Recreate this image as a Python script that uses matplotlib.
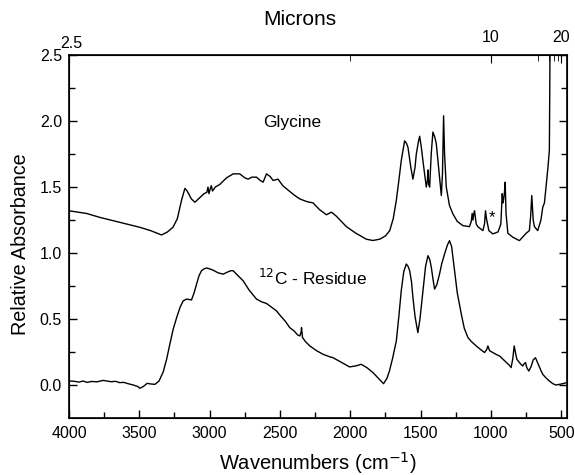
import matplotlib.pyplot as plt
import numpy as np

plt.rcParams['font.family'] = ['Liberation Sans', 'DejaVu Sans']

# Glycine spectrum (wavenumber cm-1, relative absorbance)
gly_wn = [4000, 3875, 3780, 3685, 3590, 3496, 3420, 3342, 3300, 3261, 3230, 3200,
          3176, 3160, 3130, 3105, 3070, 3040, 3020, 3012, 3005, 2995, 2988, 2980,
          2960, 2928, 2880, 2833, 2786, 2750, 2727, 2700, 2667, 2640, 2620, 2596,
          2570, 2549, 2514, 2480, 2431, 2400, 2359, 2310, 2265, 2220, 2170, 2134,
          2100, 2028, 1960, 1886, 1840, 1791, 1750, 1720, 1695, 1673, 1655, 1638,
          1614, 1600, 1590, 1570, 1555, 1540, 1531, 1515, 1507, 1495, 1484, 1470,
          1460, 1452, 1448, 1443, 1436, 1425, 1413, 1400, 1389, 1370, 1353, 1345,
          1337, 1330, 1318, 1295, 1271, 1240, 1200, 1153, 1140, 1134, 1128, 1122,
          1117, 1105, 1094, 1058, 1046, 1039, 1032, 1015, 987, 950, 930, 920,
          915, 911, 905, 899, 893, 880, 845, 798, 750, 727, 718, 710,
          700, 691, 668, 645, 632, 620, 609, 595, 585, 580, 575]
gly_abs = [1.32, 1.30, 1.27, 1.245, 1.22, 1.195, 1.17, 1.137, 1.16, 1.195, 1.26, 1.40,
           1.49, 1.47, 1.41, 1.385, 1.42, 1.45, 1.46, 1.50, 1.45, 1.49, 1.51, 1.47,
           1.50, 1.52, 1.57, 1.60, 1.60, 1.57, 1.56, 1.575, 1.575, 1.55, 1.537, 1.60,
           1.58, 1.55, 1.56, 1.51, 1.467, 1.44, 1.41, 1.39, 1.38, 1.33, 1.29, 1.31,
           1.28, 1.20, 1.15, 1.105, 1.095, 1.105, 1.13, 1.17, 1.26, 1.40, 1.55, 1.70,
           1.85, 1.83, 1.80, 1.65, 1.56, 1.65, 1.75, 1.85, 1.885, 1.80, 1.70, 1.58,
           1.50, 1.55, 1.63, 1.52, 1.50, 1.75, 1.917, 1.88, 1.83, 1.62, 1.436, 1.60,
           2.04, 1.75, 1.50, 1.36, 1.297, 1.24, 1.208, 1.20, 1.24, 1.30, 1.25, 1.30,
           1.32, 1.22, 1.20, 1.17, 1.22, 1.32, 1.26, 1.17, 1.145, 1.16, 1.22, 1.45,
           1.38, 1.40, 1.45, 1.537, 1.30, 1.15, 1.12, 1.094, 1.15, 1.17, 1.28, 1.436,
           1.25, 1.20, 1.17, 1.25, 1.347, 1.38, 1.50, 1.65, 1.78, 2.6, 3.0]

# 12C residue spectrum
res_wn = [4000, 3960, 3930, 3900, 3870, 3840, 3800, 3758, 3730, 3700, 3670, 3640,
          3610, 3580, 3543, 3510, 3496, 3470, 3444, 3420, 3389, 3360, 3330, 3305,
          3283, 3260, 3235, 3210, 3188, 3164, 3129, 3110, 3093, 3075, 3058, 3040,
          3022, 3000, 2975, 2940, 2904, 2875, 2850, 2833, 2800, 2762, 2720, 2667,
          2630, 2596, 2560, 2525, 2501, 2460, 2431, 2400, 2375, 2359, 2350, 2347,
          2343, 2340, 2320, 2288, 2240, 2194, 2150, 2123, 2060, 2005, 1960, 1922,
          1880, 1839, 1800, 1764, 1740, 1722, 1700, 1673, 1655, 1638, 1620, 1602,
          1590, 1578, 1565, 1555, 1540, 1520, 1505, 1484, 1465, 1448, 1435, 1424,
          1412, 1401, 1385, 1366, 1350, 1330, 1310, 1295, 1280, 1259, 1240, 1211,
          1190, 1164, 1140, 1105, 1075, 1046, 1030, 1022, 1010, 987, 960, 939,
          900, 870, 857, 845, 835, 825, 816, 790, 774, 765, 755, 745,
          731, 715, 700, 684, 665, 645, 632, 610, 585, 560, 538, 515, 490, 467]
res_abs = [0.03, 0.028, 0.022, 0.03, 0.02, 0.027, 0.024, 0.035, 0.03, 0.025, 0.028, 0.018,
           0.02, 0.01, 0.0, -0.012, -0.025, -0.01, 0.013, 0.008, 0.005, 0.03, 0.10, 0.20,
           0.31, 0.42, 0.51, 0.59, 0.638, 0.651, 0.645, 0.70, 0.765, 0.83, 0.866, 0.88,
           0.887, 0.88, 0.87, 0.85, 0.84, 0.855, 0.866, 0.866, 0.83, 0.79, 0.72, 0.651,
           0.63, 0.618, 0.59, 0.562, 0.53, 0.48, 0.435, 0.41, 0.38, 0.372, 0.40, 0.435,
           0.39, 0.36, 0.33, 0.296, 0.26, 0.233, 0.215, 0.207, 0.17, 0.137, 0.145, 0.157,
           0.13, 0.094, 0.05, 0.01, 0.05, 0.106, 0.20, 0.334, 0.52, 0.714, 0.86, 0.917,
           0.90, 0.866, 0.78, 0.663, 0.52, 0.397, 0.50, 0.714, 0.90, 0.98, 0.95, 0.89,
           0.80, 0.727, 0.76, 0.84, 0.92, 0.993, 1.06, 1.094, 1.05, 0.866, 0.70, 0.537,
           0.43, 0.36, 0.33, 0.296, 0.27, 0.246, 0.27, 0.296, 0.26, 0.246, 0.23, 0.22,
           0.18, 0.15, 0.132, 0.20, 0.296, 0.24, 0.195, 0.16, 0.144, 0.16, 0.17, 0.13,
           0.106, 0.14, 0.19, 0.207, 0.16, 0.11, 0.081, 0.055, 0.03, 0.01, 0.0, 0.005, 0.01, 0.017]

micron_major = [2.5, 10, 20]
micron_labels = ['', '10', '20']
micron_minor = [5, 15, 17, 18, 19]

fig = plt.figure(figsize=(5.75, 4.75), dpi=100)
ax = fig.add_axes([0.12, 0.12, 0.866, 0.764])

ax.plot(gly_wn, gly_abs, color='black', lw=1.0)
ax.plot(res_wn, res_abs, color='black', lw=1.0)

ax.set_xlim(4000, 460)
ax.set_ylim(-0.25, 2.5)
ax.set_xticks([4000, 3500, 3000, 2500, 2000, 1500, 1000, 500])
ax.set_xticks(np.arange(3750, 460, -500), minor=True)
ax.set_yticks([0.0, 0.5, 1.0, 1.5, 2.0, 2.5])
ax.set_yticks([0.25, 0.75, 1.25, 1.75, 2.25], minor=True)
ax.tick_params(axis='both', which='both', direction='in', labelsize=11.5, width=1.0)
ax.tick_params(axis='x', which='major', length=6, pad=6)
ax.tick_params(axis='x', which='minor', length=4)
ax.tick_params(axis='y', which='major', length=6, pad=5, right=True)
ax.tick_params(axis='y', which='minor', length=4, right=True)
for s in ax.spines.values():
    s.set_linewidth(1.2)

# top axis in microns
top = ax.twiny()
top.set_xlim(ax.get_xlim())
top.set_xticks([1e4 / m for m in micron_major])
top.set_xticklabels(micron_labels)
top.set_xticks([1e4 / m for m in micron_minor], minor=True)
top.tick_params(axis='x', which='both', direction='in', labelsize=11.5, pad=7)
top.tick_params(axis='x', which='major', length=6)
top.tick_params(axis='x', which='minor', length=4)
ax.annotate('2.5', xy=(0, 1), xycoords='axes fraction', xytext=(2, 3),
            textcoords='offset points', ha='center', va='bottom', fontsize=11.5)

ax.text(2416, 1.99, 'Glycine', ha='center', va='center', fontsize=12.5)
ax.text(2267, 0.815, '$^{12}$C - Residue', ha='center', va='center', fontsize=12.5)
ax.text(994, 1.265, '*', ha='center', va='center', fontsize=12)

fig.text(0.522, 0.958, 'Microns', ha='center', va='center', fontsize=15)
fig.text(0.553, 0.025, 'Wavenumbers (cm$^{-1}$)', ha='center', va='center', fontsize=14.5)
fig.text(0.035, 0.486, 'Relative Absorbance', rotation=90, ha='center', va='center', fontsize=14.2)

plt.savefig('out.png', dpi=100)
